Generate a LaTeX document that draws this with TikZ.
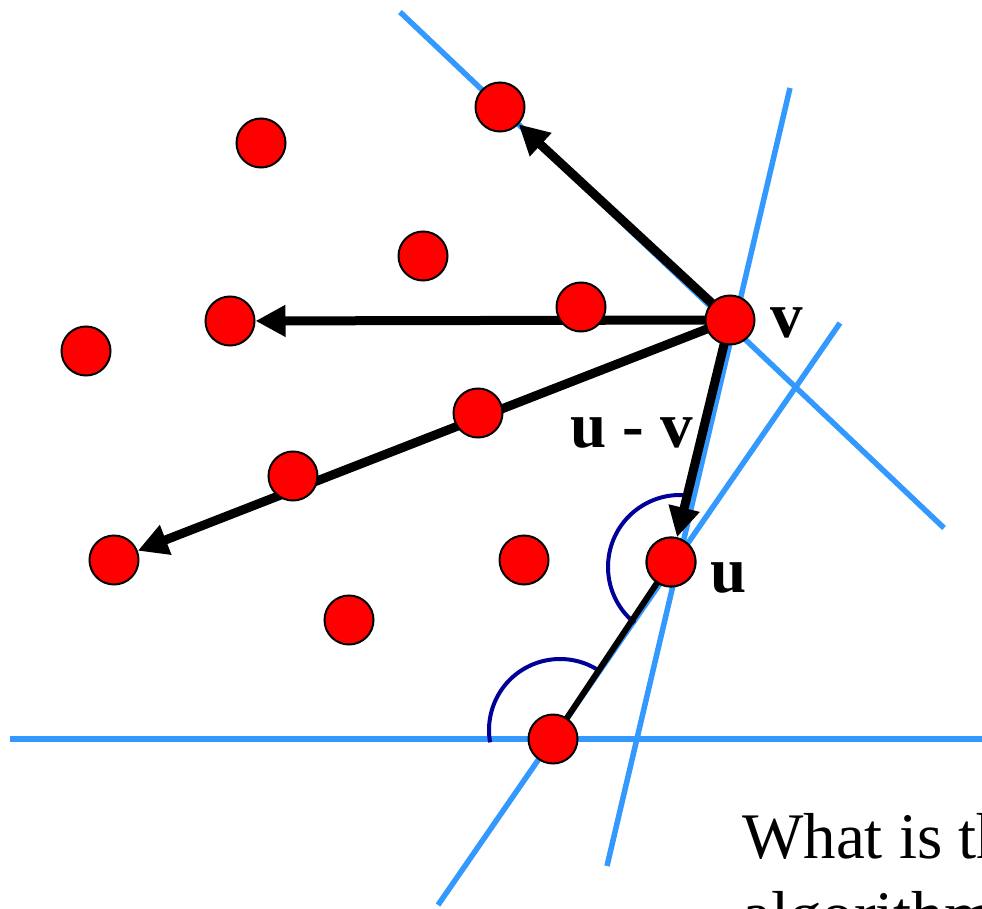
\documentclass[tikz,border=0pt]{standalone}
\usepackage{fontspec}
\setmainfont{Liberation Serif}
\usetikzlibrary{arrows.meta}
\definecolor{hullblue}{RGB}{51,153,255}
\definecolor{arcblue}{RGB}{0,0,153}
\tikzset{
  pt/.style={circle, draw=black, line width=2pt, fill=red, minimum size=49pt, inner sep=0pt},
  hull/.style={hullblue, line width=5.5pt},
  vec/.style={black, line width=9pt, -{Triangle[length=30pt,width=30pt]}},
  anglearc/.style={arcblue, line width=4pt},
  lab/.style={font=\fontsize{65}{78}\selectfont\bfseries, inner sep=0pt, anchor=base west},
  qtext/.style={font=\fontsize{65}{78}\selectfont, inner sep=0pt, anchor=base west},
}
\begin{document}
\begin{tikzpicture}[x=1pt,y=-1pt]
\useasboundingbox (0,0) rectangle (982,909);
\clip (0,0) rectangle (982,909);
% coordinates for hull lines
\coordinate (a1) at (400,12);  \coordinate (a2) at (944,528);
\coordinate (b1) at (790,88);  \coordinate (b2) at (607,866);
\coordinate (c1) at (840,323); \coordinate (c2) at (438,905);
\coordinate (d1) at (10,739);  \coordinate (d2) at (990,739);
\draw[hull] (a1) -- (a2);
\draw[hull] (b1) -- (b2);
\draw[hull] (c1) -- (c2);
\draw[hull] (d1) -- (d2);
% angle arcs (y axis flipped: angles negated)
\draw[anglearc] (680,567) ++(-82:72) arc[start angle=-82, end angle=-231, radius=72];
\draw[anglearc] (560,730) ++(-55:71) arc[start angle=-55, end angle=-190, radius=71];
% points
\path
  (500,107) coordinate (c01)
  (261,143) coordinate (c02)
  (423,256) coordinate (c03)
  (230,321) coordinate (c04)
  (581,307) coordinate (c05)
  (86,351)  coordinate (c06)
  (730,320) coordinate (cv)
  (478,413) coordinate (c08)
  (293,476) coordinate (c09)
  (114,560) coordinate (c10)
  (524,560) coordinate (c11)
  (671,562) coordinate (cu)
  (349,620) coordinate (c13)
  (553,739) coordinate (c14);
\node[pt] (p01) at (c01) {};
\node[pt] (p02) at (c02) {};
\node[pt] (p03) at (c03) {};
\node[pt] (p04) at (c04) {};
\node[pt] (p06) at (c06) {};
\node[pt] (p10) at (c10) {};
\node[pt] (p11) at (c11) {};
\node[pt] (p13) at (c13) {};
\node[pt] (u) at (cu) {};
% vectors
\draw[vec] (cv) -- (p01);
\draw[vec] (cv) -- (p04);
\draw[vec] (cv) -- (p10);
\draw[vec] (cv) -- (u);
\draw[black, line width=6pt] (cu) -- (c14);
\node[pt] (p05) at (c05) {};
\node[pt] (p08) at (c08) {};
\node[pt] (p09) at (c09) {};
\node[pt] (v) at (cv) {};
\node[pt] (u2) at (cu) {};
\node[pt] (p14) at (c14) {};
% labels
\node[lab] (lv) at (770,337) {v};
\node[lab] (lu) at (710,592) {u};
\node[lab] (luv) at (570,447) {u - v};
\node[qtext] (q1) at (742,858) {What is the};
\node[qtext] (q2) at (742,936) {algorithm};
\end{tikzpicture}
\end{document}
